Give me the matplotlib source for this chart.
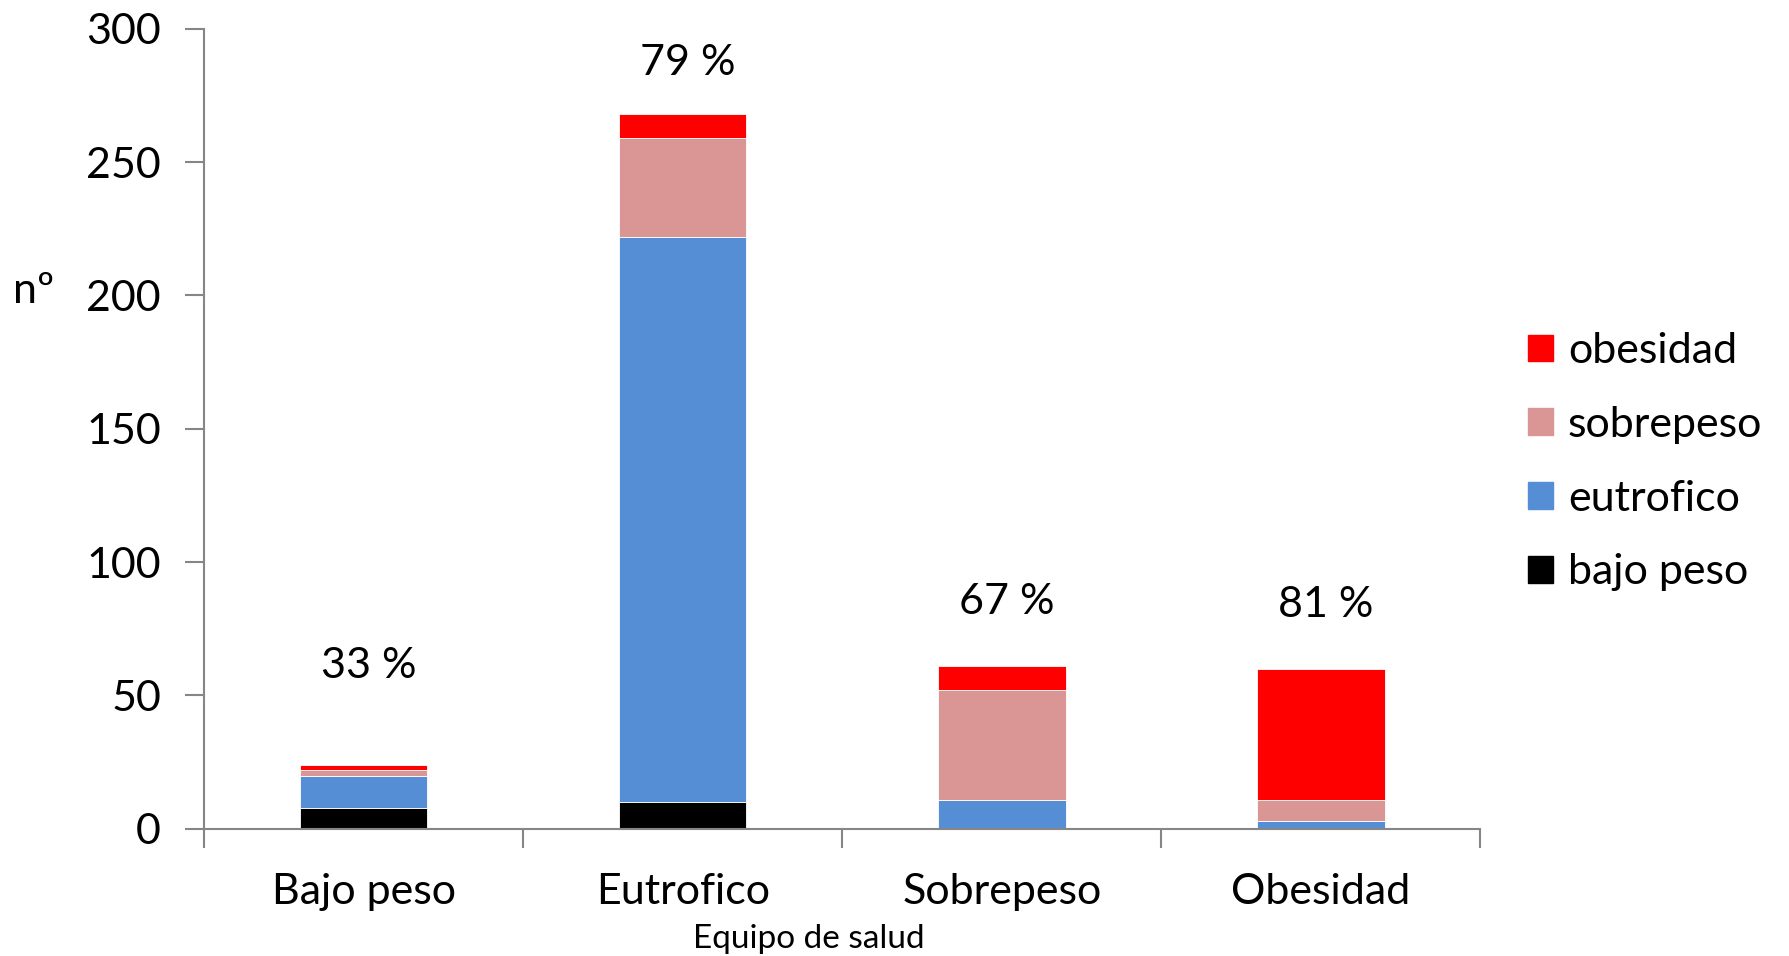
import matplotlib
matplotlib.use("Agg")
import matplotlib.pyplot as plt
from matplotlib.patches import Patch
import numpy as np

categories = ["Bajo peso", "Eutrofico", "Sobrepeso", "Obesidad"]
series_names = ["bajo peso", "eutrofico", "sobrepeso", "obesidad"]
bajo_peso = [8, 10, 0, 0]
eutrofico = [12, 212, 11, 3]
sobrepeso = [2, 37, 41, 8]
obesidad = [2, 9, 9, 49]
pct_labels = ["33 %", "79 %", "67 %", "81 %"]
pct_y = [61, 287, 85, 84]
colors = ["#000000", "#558ED5", "#D99694", "#FF0000"]

plt.rcParams['font.family'] = ['Lato', 'DejaVu Sans']
FS = 31

fig = plt.figure(figsize=(17.9, 9.56), dpi=100)
ax = fig.add_axes([0.114, 0.133, 0.713, 0.837])

x = np.arange(len(categories))
bottom = np.zeros(len(categories))
data = [bajo_peso, eutrofico, sobrepeso, obesidad]
for vals, name, c in zip(data, series_names, colors):
    ax.bar(x, vals, width=0.4, bottom=bottom, color=c, label=name,
           edgecolor="white", linewidth=0.6)
    bottom += np.array(vals)

for xi, lab, yy in zip(x, pct_labels, pct_y):
    ax.text(xi + 0.015, yy, lab, ha="center", va="center", fontsize=FS)

ax.set_xlim(-0.5, 3.5)
ax.set_ylim(0, 300)
ax.set_yticks(range(0, 301, 50))
ax.tick_params(axis="y", labelsize=FS, length=14, width=1.5, color="#868686", pad=17)
ax.set_xticks(np.arange(-0.5, 3.6, 1.0))
ax.set_xticklabels([])
ax.set_xticks(x, minor=True)
ax.set_xticklabels(categories, minor=True)
ax.tick_params(axis="x", which="major", length=14, width=1.5, color="#868686")
ax.tick_params(axis="x", which="minor", length=0, labelsize=FS, pad=32)
for s in ["top", "right"]:
    ax.spines[s].set_visible(False)
for s in ["left", "bottom"]:
    ax.spines[s].set_color("#868686")
    ax.spines[s].set_linewidth(1.5)

fig.text(0.452, 0.018, "Equipo de salud", ha="center", va="center", fontsize=24)
fig.text(0.019, 0.696, "nº", ha="center", va="center", fontsize=FS)

handles = [Patch(color=c, label=n) for n, c in zip(series_names, colors)][::-1]
fig.legend(handles=handles, loc="center left", bbox_to_anchor=(0.832, 0.517),
           frameon=False, fontsize=FS, handlelength=0.58, handleheight=0.58,
           handletextpad=0.35, labelspacing=0.83)

fig.savefig("out.png", dpi=100)
